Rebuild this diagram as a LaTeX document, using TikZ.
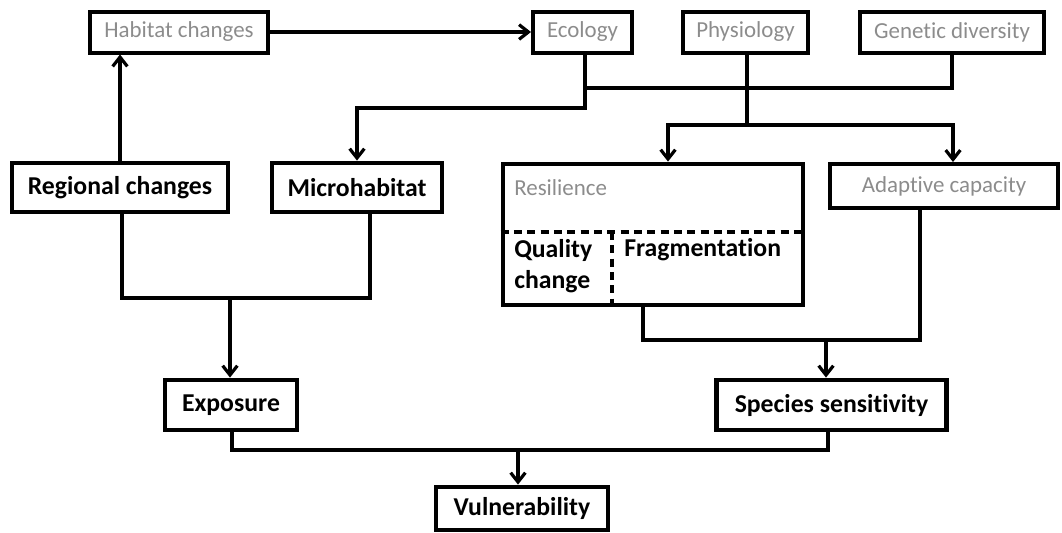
\documentclass[tikz,border=0pt]{standalone}
\usepackage{fontspec}
\setmainfont{Carlito}[Ligatures={NoCommon}]
\usetikzlibrary{arrows.meta}
\definecolor{txtgray}{RGB}{140,140,140}
\tikzset{
  x=0.75pt, y=-0.75pt,
  gbox/.style={draw, line width=3pt, rectangle, inner sep=0pt, text=txtgray, font=\fontsize{17.2}{20}\selectfont},
  bbox/.style={draw, line width=3.6pt, rectangle, inner sep=0pt, font=\bfseries\fontsize{19.3}{22}\selectfont},
  conn/.style={line width=2.4pt, line cap=rect},
  arr/.style={line width=2.4pt, -{Straight Barb[length=7pt,width=11pt,line width=2.4pt]}},
  dsh/.style={line width=2.4pt, dash pattern=on 6pt off 4pt},
  lbl/.style={inner sep=0pt, anchor=west}
}
\begin{document}
\begin{tikzpicture}
\useasboundingbox (0,0) rectangle (1062,532);
% nodes
\node[gbox, minimum width=178*0.75pt, minimum height=41*0.75pt] (hab) at (179,32) {Habitat changes};
\node[gbox, minimum width=99*0.75pt, minimum height=41*0.75pt] (eco) at (582.5,32) {Ecology};
\node[gbox, minimum width=125*0.75pt, minimum height=41*0.75pt] (phys) at (745.5,32) {Physiology};
\node[gbox, minimum width=184*0.75pt, minimum height=41*0.75pt] (gen) at (952,32) {Genetic diversity};
\node[bbox, minimum width=216*0.75pt, minimum height=49*0.75pt] (reg) at (120,187.5) {Regional changes};
\node[bbox, minimum width=170*0.75pt, minimum height=49*0.75pt] (micro) at (357,187.5) {Microhabitat};
\node[bbox, minimum width=300*0.75pt, minimum height=141*0.75pt] (res) at (653,234.5) {};
\node[gbox, minimum width=228*0.75pt, minimum height=44*0.75pt] (adapt) at (944,186) {Adaptive capacity};
\node[bbox, minimum width=132*0.75pt, minimum height=50*0.75pt] (expo) at (231,405) {Exposure};
\node[bbox, minimum width=230*0.75pt, minimum height=50*0.75pt] (spec) at (831.5,405) {Species sensitivity};
\node[bbox, minimum width=172*0.75pt, minimum height=43*0.75pt] (vul) at (522,508.5) {Vulnerability};
% resilience inner
\node[lbl, text=txtgray, font=\fontsize{17.2}{20}\selectfont] (restxt) at (514,188) {Resilience};
\node[lbl, font=\bfseries\fontsize{19.3}{22}\selectfont] (qual) at (514,250) {Quality};
\node[lbl, font=\bfseries\fontsize{19.3}{22}\selectfont] (chg) at (514,282) {change};
\node[lbl, font=\bfseries\fontsize{19.3}{22}\selectfont] (frag) at (624,250) {Fragmentation};
\coordinate (dl) at (503,232);
\coordinate (dr) at (803,232);
\coordinate (dv) at (612,232);
\draw[dsh] (res.west |- dl) -- (res.east |- dr);
\draw[dsh] (dv) -- (dv |- res.south);
% connectors
\draw[arr] (reg.north) -- (reg.north |- hab.south);
\draw[arr] (hab.east) -- (eco.west);
\coordinate (e1) at (585,88);
\coordinate (e2) at (585,108);
\coordinate (m1) at (357,108);
\draw[conn] (e1 |- eco.south) -- (e2) -- (m1);
\draw[arr] (m1) -- (micro.north);
\coordinate (g1) at (952,88);
\draw[conn] (gen.south) -- (g1) -- (e1);
\coordinate (p1) at (747,125);
\coordinate (pl) at (668,125);
\coordinate (pr) at (953,125);
\draw[conn] (p1 |- phys.south) -- (p1);
\draw[conn] (pl) -- (pr);
\draw[arr] (pl) -- (pl |- res.north);
\draw[arr] (pr) -- (pr |- adapt.north);
\coordinate (r1) at (643,340);
\coordinate (a1) at (920,340);
\coordinate (s1) at (826,340);
\draw[conn] (r1 |- res.south) -- (r1) -- (a1) -- (a1 |- adapt.south);
\draw[arr] (s1) -- (s1 |- spec.north);
\coordinate (x1) at (122,298);
\coordinate (x2) at (370,298);
\coordinate (x3) at (230,298);
\draw[conn] (x1 |- reg.south) -- (x1) -- (x2) -- (x2 |- micro.south);
\draw[arr] (x3) -- (x3 |- expo.north);
\coordinate (v1) at (232,450);
\coordinate (v2) at (828,450);
\coordinate (v3) at (518,450);
\draw[conn] (v1 |- expo.south) -- (v1) -- (v2) -- (v2 |- spec.south);
\draw[arr] (v3) -- (v3 |- vul.north);
\end{tikzpicture}
\end{document}
